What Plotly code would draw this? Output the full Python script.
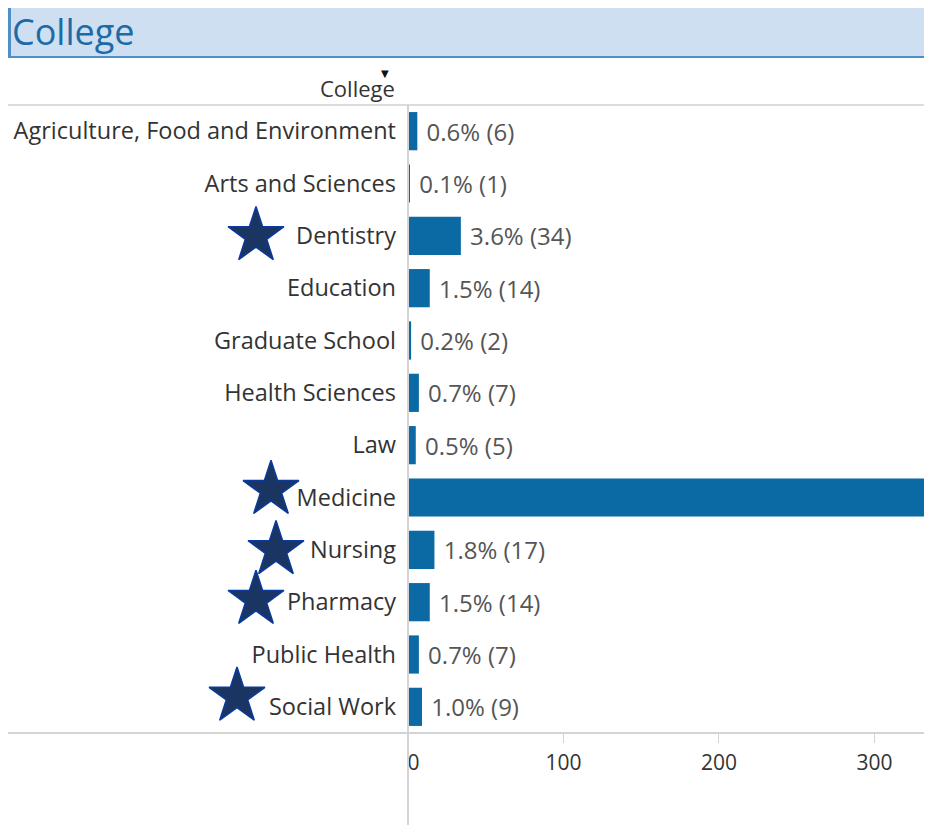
import plotly.graph_objects as go

colleges = [
    "Agriculture, Food and Environment", "Arts and Sciences", "Dentistry",
    "Education", "Graduate School", "Health Sciences", "Law", "Medicine",
    "Nursing", "Pharmacy", "Public Health", "Social Work",
]
counts = [6, 1, 34, 14, 2, 7, 5, 828, 17, 14, 7, 9]
pct_labels = ["0.6%", "0.1%", "3.6%", "1.5%", "0.2%", "0.7%", "0.5%", "87.7%",
              "1.8%", "1.5%", "0.7%", "1.0%"]
x_ticks = [0, 100, 200, 300]
x_tick_text = ["\u00a0\u00a00", "100", "200", "300"]
starred = ["Dentistry", "Medicine", "Nursing", "Pharmacy", "Social Work"]
star_x = [256, 271, 276, 256, 237]      # screen x of each star (label side)
star_shift = [0, -0.15, 0, -0.05, -0.2]  # small vertical nudge, in rows

# the page has an 8px body margin, so work in screen pixels minus 8
OFF = 8
W, H = 932 - OFF, 825 - OFF
T, B = 105 - OFF, 825 - 733
ph = H - T - B
x_max = 337
zero_px = 408                         # screen x of the zero line
u = x_max / (932 - zero_px)           # axis units per pixel
x_min = -(zero_px - OFF) * u

def px_x(p):
    return (p - OFF) / W

def px_y(p):
    return 1 + (T - (p - OFF)) / ph

bar_color = "#0b69a3"
font = "Open Sans"

rows = list(range(len(colleges)))
texts = [f" {p} ({c})" for p, c in zip(pct_labels, counts)]
positions = ["none" if c == "Medicine" else "outside" for c in colleges]

fig = go.Figure()
fig.add_trace(go.Bar(
    x=counts, y=rows, orientation="h",
    marker=dict(color=bar_color, line=dict(width=0)),
    width=0.73,
    text=texts, textposition=positions, constraintext="none",
    textfont=dict(family=font, size=24, color="#555555"),
    cliponaxis=True,
    hoverinfo="skip",
))

# stars beside selected colleges, left of the zero line
fig.add_trace(go.Scatter(
    x=[(sx - zero_px) * u for sx in star_x],
    y=[colleges.index(s) + d for s, d in zip(starred, star_shift)],
    mode="markers",
    marker=dict(symbol="star", size=42, color="#1b3563",
                line=dict(color="#0a3a9e", width=1.5)),
    hoverinfo="skip",
))

fig.update_layout(
    width=W, height=H,
    margin=dict(l=0, r=0, t=T, b=B),
    paper_bgcolor="white", plot_bgcolor="white",
    showlegend=False,
    xaxis=dict(
        domain=[0, 1], range=[x_min, x_max],
        tickvals=x_ticks, ticktext=x_tick_text,
        showgrid=False, zeroline=False, showline=False, automargin=False,
        ticks="outside", ticklen=9, tickcolor="#d4d4d4", tickwidth=1,
        ticklabelstandoff=2,
        tickfont=dict(family=font, size=21, color="#333333"),
    ),
    yaxis=dict(
        range=[len(colleges) - 0.5, -0.5],
        tickvals=rows, ticktext=colleges,
        showgrid=False, zeroline=False, showline=False,
        anchor="free", position=px_x(zero_px), automargin=False,
        ticks="", ticklabelstandoff=12,
        tickfont=dict(family=font, size=23.5, color="#333333"),
    ),
)

# header bar
fig.add_shape(type="rect", xref="paper", yref="paper",
              x0=0, x1=1, y0=px_y(57), y1=px_y(0),
              fillcolor="#cddff1", line=dict(width=0), layer="below")
fig.add_shape(type="line", xref="paper", yref="paper",
              x0=0, x1=1, y0=px_y(57), y1=px_y(57),
              line=dict(color="#4d8fc6", width=2))
fig.add_shape(type="line", xref="paper", yref="paper",
              x0=px_x(9.5), x1=px_x(9.5), y0=px_y(57), y1=px_y(0),
              line=dict(color="#4d8fc6", width=3))
fig.add_annotation(text="College", xref="paper", yref="paper",
                   x=px_x(10), y=px_y(32), xanchor="left", yanchor="middle",
                   showarrow=False,
                   font=dict(family=font, size=36, color="#1c6ba6"))

# column header with its sort marker
fig.add_annotation(text="College", xref="paper", yref="paper",
                   x=px_x(397), y=px_y(88), xanchor="right", yanchor="middle",
                   showarrow=False,
                   font=dict(family=font, size=22, color="#333333"))
fig.add_annotation(text="▼", xref="paper", yref="paper",
                   x=px_x(385), y=px_y(73), xanchor="center", yanchor="middle",
                   showarrow=False,
                   font=dict(family="DejaVu Sans", size=10, color="#111111"))

# frame lines
fig.add_shape(type="line", xref="paper", yref="paper",
              x0=0, x1=1, y0=1, y1=1,
              line=dict(color="#dcdcdc", width=2))
fig.add_shape(type="line", xref="paper", yref="paper",
              x0=0, x1=1, y0=0, y1=0,
              line=dict(color="#d4d4d4", width=2))
fig.add_shape(type="line", xref="x", yref="paper",
              x0=0, x1=0, y0=px_y(825), y1=1,
              line=dict(color="#d4d4d4", width=2))

fig.write_html("out.html")
